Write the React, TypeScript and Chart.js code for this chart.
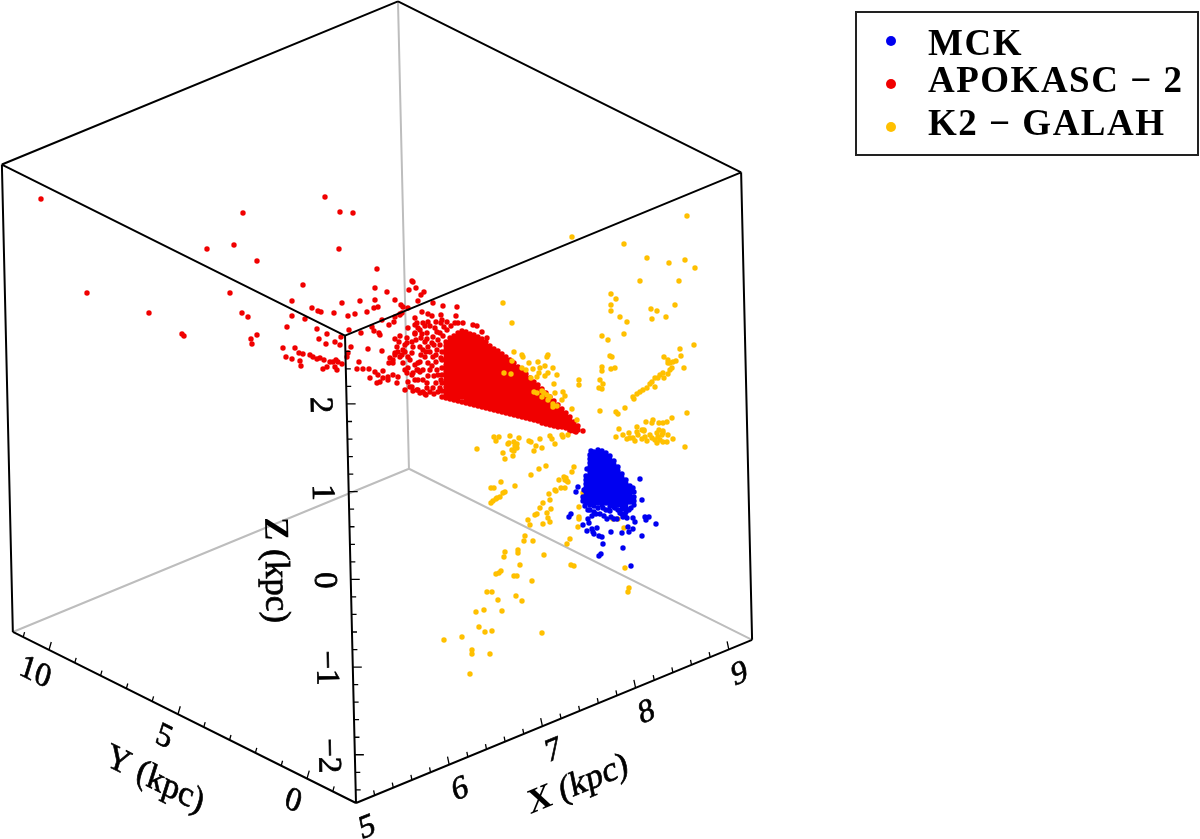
import { useEffect, useRef } from "react";
import Chart from "chart.js/auto";
import type { Chart as ChartInstance, Plugin } from "chart.js";

type Pair = [number, number];
type Column = [number, number[]];

// all stars in view-plane units (the projected 3D view)
const seriesNames = ["MCK", "APOKASC \u2212 2", "K2 \u2212 GALAH"];

const xTicks = [5.2, 5.4, 5.6, 5.8, 6, 6.2, 6.4, 6.6, 6.8, 7, 7.2, 7.4, 7.6, 7.8, 8, 8.2, 8.4, 8.6, 8.8, 9];
const yTicks = [-1, 0, 1, 2, 3, 4, 5, 6, 7, 8, 9, 10, 11];
const zTicks = [-2.4, -2.2, -2, -1.8, -1.6, -1.4, -1.2, -1, -0.8, -0.6, -0.4, -0.2, 0, 0.2, 0.4, 0.6, 0.8, 1, 1.2, 1.4, 1.6, 1.8, 2, 2.2, 2.4, 2.6];
const xLabels = [5, 6, 7, 8, 9];
const yLabels = [0, 5, 10];
const zLabels = [-2, -1, 0, 1, 2];
const xRange = [5, 9.25];
const yRange = [-1.9, 11.4];
const zRange = [-2.55, 2.78];

const redSparse: Pair[] = [
  [41,199],[87,293],[149,313],[182,334],[184,336],[243,213],[207,249],[234,245],[257,261],[325,197],[340,212],[353,213],
  [339,249],[377,269],[303,285],[230,293],[242,313],[248,317],[257,335],[251,339],[252,344],[292,301],[292,316],[287,327],
  [312,308],[318,311],[321,312],[305,319],[334,313],[342,303],[348,316],[355,314],[360,301],[367,312],[374,308],[378,307],
  [375,300],[375,288],[387,292],[395,300],[401,305],[403,307],[412,281],[413,282],[409,290],[416,288],[418,301],[400,314],
  [395,317],[394,322],[382,320],[389,325],[372,327],[374,331],[379,333],[380,335],[361,333],[349,330],[317,329],[327,334],
  [319,339],[335,342],[340,345],[341,337],[326,344],[351,347],[283,348],[295,348],[286,357],[292,359],[300,361],[301,366],
  [299,353],[303,354],[310,355],[313,357],[317,359],[320,358],[324,360],[330,362],[333,362],[336,360],[338,362],[342,364],
  [335,367],[337,370],[323,369],[327,367],[347,357],[348,353],[357,369],[359,362],[363,369],[369,369],[368,349],[382,351],
  [370,378],[375,372],[378,375],[383,371],[377,383],[380,382],[383,378],[388,377],[388,380],[393,375],[398,377],[397,383],
  [389,363],[393,360],[395,355],[398,352],[400,357],[405,352],[407,343],[403,363],[408,357],[395,339],[407,338],[413,347],
  [415,333],[417,323],[408,328],[405,370],[413,373],[418,370],[405,390],[412,387],[417,390],[418,380],[424,292],[421,295],
  [433,303],[443,306],[457,307],[408,308],[402,313],[400,315],[422,312],[415,318],[428,314],[432,316],[441,315],[456,316],
  [442,320],[444,327],[415,325],[418,328],[423,323],[428,322],[435,328],[437,332],[422,334],[415,334],[427,333],[433,337],
  [440,333],[400,336],[399,342],[397,347],[420,347],[423,350],[428,347],[432,343],[390,358],[395,353],[403,350],[412,353],
  [410,360],[418,363],[417,370],[393,363],[425,357],[428,363],[433,357],[437,350],[423,370],[430,370],[437,370],[407,373],
  [412,375],[420,372],[410,387],[418,390],[423,392],[430,392],[433,388],[415,380],[408,382],[427,383],[455,323],[458,323],
  [463,323],[473,325],[477,326],[482,332],[487,338],[583,431],[576,432],[570,431],
  [420,330],[425,326],[430,326],[436,322],[441,323],[447,322],[451,326],[447,330],[443,336],[438,340],[434,345],[430,352],
  [426,352],[421,355],[436,355],[440,345],[441,358],[436,362],[432,366],[438,375],[434,376],[428,376],[423,380],[427,388],
  [436,383],[441,380],[438,392],[434,394],[440,388],[426,395],[413,391],[420,393],[425,394],[416,340],[421,338],[412,342],
  [425,342],[427,339],[405,345],[402,355],[415,365],[420,362],[408,368],
];

// saturated part of the red wedge, by column: [x, y values]
const redCore: Column[] = [
  [442,[352,360,368,375,383,391,397]],
  [446,[342,346,350,354,358,361,365,369,372,376,380,383,387,391,394,398]],
  [450,[338,342,345,349,352,356,360,363,367,371,374,378,382,385,389,392,396,399]],
  [454,[336,340,344,347,351,354,358,362,365,369,373,376,380,384,387,391,394,398,400]],
  [458,[333,337,341,344,348,352,355,359,363,366,370,374,377,381,385,388,392,395,399,401]],
  [462,[331,335,339,342,346,350,353,357,361,364,368,372,375,379,383,386,390,393,397,402]],
  [466,[332,336,340,344,348,351,355,359,362,366,370,373,377,381,384,388,392,395,399,403]],
  [470,[334,338,342,346,349,353,357,360,364,368,371,375,379,382,386,390,393,397,400,404]],
  [474,[335,339,343,347,351,354,358,362,365,369,373,376,380,384,387,391,395,398,402,405]],
  [478,[337,341,345,348,352,356,359,363,367,370,374,378,381,385,389,392,396,399,403,406]],
  [482,[339,343,347,350,354,358,361,365,369,372,376,380,383,387,391,394,398,401,405,407]],
  [486,[342,346,349,353,357,360,364,368,371,375,379,382,386,390,393,397,400,404,408]],
  [490,[346,350,353,357,360,364,368,371,375,379,382,386,390,393,397,400,404,407,409]],
  [494,[349,352,356,359,363,367,370,374,378,381,385,389,392,396,399,403,406,410]],
  [498,[351,355,358,362,366,369,373,377,380,384,388,391,395,398,402,405,409,411]],
  [502,[354,358,361,365,369,372,376,380,383,387,391,394,398,401,405,408,412]],
  [506,[357,361,364,368,372,375,379,383,386,390,394,397,401,404,408,411,413]],
  [510,[360,364,367,371,375,378,382,386,389,393,397,400,404,407,411,414]],
  [514,[363,367,370,374,378,381,385,389,392,396,400,403,407,410,413,415]],
  [518,[367,371,374,378,382,385,389,393,396,400,403,407,410,414,416]],
  [522,[371,375,378,382,385,389,393,396,400,404,407,411,414,417]],
  [526,[374,378,382,385,389,392,396,400,403,407,411,414,418]],
  [530,[378,382,385,389,393,396,400,403,407,410,414,417,419]],
  [534,[382,385,389,393,396,400,404,407,411,414,418,420]],
  [538,[385,389,393,396,400,403,407,411,414,418,421]],
  [542,[389,393,396,400,404,407,411,414,418,421,423]],
  [546,[393,397,400,404,407,411,415,418,421,424]],
  [550,[397,401,404,408,411,415,418,422,425]],
  [554,[401,405,408,412,415,419,422,426]],
  [558,[405,409,412,416,419,423,427]],
  [562,[409,413,416,420,423,427]],
  [566,[413,417,420,424,428]],
  [570,[417,421,424,428,430]],
  [574,[422,425,429,431]],
  [578,[426,430]],
];

const yellowStars: Pair[] = [
  [687,216],[572,237],[624,244],[647,258],[669,263],[685,260],[695,268],[640,281],[679,281],[611,294],[616,299],[611,305],
  [611,311],[675,305],[651,309],[657,311],[652,319],[666,317],[620,317],[627,322],[624,334],[602,336],[608,340],[503,303],
  [512,323],[694,345],[680,349],[681,356],[664,357],[668,360],[670,363],[668,363],[673,362],[676,361],[684,368],[672,368],
  [668,374],[670,370],[663,373],[660,375],[658,378],[655,378],[652,382],[650,384],[655,387],[647,388],[643,390],[640,392],
  [637,394],[633,397],[634,399],[664,378],[610,356],[612,357],[602,367],[602,371],[611,369],[615,368],[579,380],[579,385],
  [600,380],[603,384],[599,388],[602,389],[600,411],[625,408],[616,412],[618,414],[687,413],[672,418],[659,423],[663,423],
  [667,422],[646,422],[653,420],[652,423],[637,427],[619,429],[616,437],[642,430],[644,430],[659,430],[663,431],[668,435],
  [673,439],[685,447],[623,435],[627,439],[630,438],[633,438],[629,433],[637,432],[638,435],[644,431],[635,441],[642,439],
  [645,437],[647,441],[652,438],[650,435],[657,433],[658,437],[655,440],[660,440],[663,442],[657,443],[662,435],[667,442],
  [663,433],[514,352],[522,355],[523,357],[512,361],[529,363],[538,362],[548,355],[547,357],[545,366],[553,368],[533,369],
  [540,368],[522,368],[526,370],[504,373],[511,374],[539,373],[537,377],[548,373],[531,378],[545,376],[557,375],[554,384],
  [534,392],[537,393],[542,391],[544,393],[542,397],[547,395],[550,397],[548,400],[555,393],[563,392],[565,396],[562,400],
  [553,404],[557,406],[553,407],[572,409],[577,420],[494,437],[499,437],[496,441],[510,436],[519,438],[509,443],[508,444],
  [514,442],[517,444],[515,446],[517,448],[529,441],[531,442],[540,439],[536,446],[542,448],[534,451],[550,436],[552,439],
  [555,444],[562,435],[563,437],[568,435],[477,449],[512,450],[514,451],[503,453],[513,456],[505,459],[546,466],[539,469],
  [531,475],[574,467],[572,472],[559,480],[564,477],[566,478],[567,481],[568,482],[565,480],[501,482],[515,486],[491,488],
  [494,488],[561,488],[565,488],[555,490],[556,491],[549,494],[550,500],[543,503],[540,508],[505,492],[503,493],[500,497],
  [497,498],[496,499],[493,501],[491,503],[583,493],[579,507],[551,509],[547,513],[548,518],[535,515],[537,514],[579,517],
  [579,519],[528,520],[550,522],[543,524],[530,525],[578,527],[613,519],[618,519],[624,528],[525,536],[524,541],[533,541],
  [570,539],[567,544],[505,552],[504,557],[518,550],[518,553],[544,555],[520,565],[571,565],[574,566],[625,568],[501,571],
  [499,573],[496,574],[514,576],[517,576],[532,581],[629,588],[628,592],[487,592],[492,592],[516,596],[498,600],[522,601],
  [484,610],[476,612],[502,611],[479,627],[485,632],[492,631],[542,633],[444,640],[462,637],[472,650],[472,654],[490,654],
  [470,674],
];

const blueSparse: Pair[] = [
  [591,451],[640,479],[587,469],[578,487],[576,492],[642,500],[633,488],[631,508],[571,514],[569,517],[583,525],[588,519],
  [589,523],[587,531],[592,529],[593,532],[597,528],[594,534],[599,536],[602,537],[603,544],[611,532],[622,533],[628,527],
  [629,532],[633,529],[642,536],[623,548],[631,566],[601,554],[599,556],[656,524],[645,517],[649,517],[646,520],[633,518],
  [635,522],[600,514],[604,516],[607,519],[611,517],[614,519],[617,519],[623,517],[627,518],[603,508],[609,510],[615,508],
  [583,497],[583,501],[585,506],[588,510],[592,516],[596,514],[584,490],[634,505],[629,510],[625,515],[620,513],
];

const blueCore: Column[] = [
  [586,[476,480,484,488,492,496,500,503]],
  [590,[455,459,463,467,471,474,478,482,486,490,494,498,501,505,510]],
  [594,[452,456,460,464,467,471,475,479,483,486,490,494,498,502,506,512]],
  [598,[450,454,458,461,465,469,473,477,480,484,488,492,496,500,503,508]],
  [602,[451,455,459,463,467,471,475,478,482,486,490,494,498,502,505]],
  [606,[453,457,461,464,468,472,476,480,484,488,491,495,499,503,510]],
  [610,[456,460,464,468,472,476,480,483,487,491,495,499,502,506,511]],
  [614,[461,465,469,473,477,480,484,488,492,496,499,503,507]],
  [618,[467,471,475,478,482,486,490,494,497,501,505,510]],
  [622,[474,478,482,485,489,493,497,501,505,509,514]],
  [626,[480,484,488,492,496,500,504,508,512]],
  [630,[486,490,494,498,502]],
  [634,[492,497,501]],
];

const BLUE = "#0000f0";
const RED = "#f00000";
const YELLOW = "#ffc000";
const SERIF = '"Liberation Serif", serif';

// the box is an almost pure parallel projection, so this is affine
function project(x: number, y: number, z: number) {
  return {
    x: 356 + (x - xRange[0]) * 93.2 - (y - yRange[0]) * 25.8 - (z - zRange[0]) * 2.06,
    y: 803 - (x - xRange[0]) * 38.4 - (y - yRange[0]) * 12.86 - (z - zRange[0]) * 87.7,
  };
}

const GAP = { x: NaN, y: NaN };
type P = { x: number; y: number };

function segments(list: [P, P][]) {
  return list.flatMap(([a, b]) => [a, b, GAP]);
}

const [x0, x1] = xRange;
const [y0, y1] = yRange;
const [z0, z1] = zRange;

const backEdges = segments([
  [project(x0, y1, z0), project(x1, y1, z0)],
  [project(x1, y0, z0), project(x1, y1, z0)],
  [project(x1, y1, z0), project(x1, y1, z1)],
]);

const frontEdges = segments([
  [project(x0, y0, z0), project(x1, y0, z0)],
  [project(x0, y0, z0), project(x0, y1, z0)],
  [project(x0, y0, z0), project(x0, y0, z1)],
  [project(x1, y0, z0), project(x1, y0, z1)],
  [project(x0, y1, z0), project(x0, y1, z1)],
  [project(x0, y0, z1), project(x1, y0, z1)],
  [project(x0, y0, z1), project(x0, y1, z1)],
  [project(x1, y0, z1), project(x1, y1, z1)],
  [project(x0, y1, z1), project(x1, y1, z1)],
]);

function tick(p: P, dx: number, dy: number): [P, P] {
  return [p, { x: p.x + dx, y: p.y + dy }];
}

const tickLines = segments([
  ...xTicks.map((v) => (xLabels.includes(v) ? tick(project(v, y0, z0), -1.7, -8) : tick(project(v, y0, z0), -1, -5))),
  ...yTicks.map((v) => (v % 5 === 0 ? tick(project(x0, v, z0), 2.3, -8) : tick(project(x0, v, z0), 1.4, -5))),
  ...zTicks.map((v) => (zLabels.includes(v) ? tick(project(x0, y0, v), 9, 0) : tick(project(x0, y0, v), 5, 0))),
]);

const flatten = (columns: Column[]) => columns.flatMap(([x, ys]) => ys.map((y) => ({ x, y })));
const pairs = (list: Pair[]) => list.map(([x, y]) => ({ x, y }));

// text matrices: baseline direction, then "down" direction of the glyphs
const X_PLANE = [0.92, -0.38, 0.2, 0.97];
const Y_PLANE = [0.89, 0.45, -0.3, 0.95];
const Z_PLANE = [0.02, 1, -1, 0.02];

const num = (v: number) => (v < 0 ? `\u2212${-v}` : `${v}`);

const axisTexts = [
  ...xLabels.map((v) => {
    const p = project(v, y0, z0);
    return { text: num(v), bold: "", size: 33, x: p.x + 11, y: p.y + 25, m: X_PLANE };
  }),
  ...yLabels.map((v) => {
    const p = project(x0, v, z0);
    return { text: num(v), bold: "", size: 33, x: p.x - 14, y: p.y + 23, m: Y_PLANE };
  }),
  ...zLabels.map((v) => {
    const p = project(x0, y0, v);
    return { text: num(v), bold: "", size: 33, x: p.x - 27, y: p.y + 1, m: Z_PLANE };
  }),
  { text: " (kpc)", bold: "X", size: 35, x: 578, y: 785, m: X_PLANE },
  { text: "Y (kpc)", bold: "", size: 35, x: 155, y: 780, m: Y_PLANE },
  { text: " (kpc)", bold: "Z", size: 35, x: 275, y: 570, m: Z_PLANE },
];

const textPlugin: Plugin<"scatter"> = {
  id: "box-text",
  afterDatasetsDraw(chart: ChartInstance<"scatter">) {
    const { ctx } = chart;
    const sx = chart.scales.x;
    const sy = chart.scales.y;
    ctx.save();
    ctx.fillStyle = "#000";
    ctx.strokeStyle = "#000";
    ctx.lineWidth = 0.7;
    ctx.textBaseline = "middle";
    ctx.textAlign = "left";
    axisTexts.forEach((t) => {
      ctx.save();
      ctx.translate(sx.getPixelForValue(t.x), sy.getPixelForValue(t.y));
      ctx.transform(t.m[0], t.m[1], t.m[2], t.m[3], 0, 0);
      ctx.font = `bold ${t.size}px ${SERIF}`;
      const boldWidth = t.bold ? ctx.measureText(t.bold).width : 0;
      ctx.font = `${t.size}px ${SERIF}`;
      const restWidth = ctx.measureText(t.text).width;
      const left = -(boldWidth + restWidth) / 2;
      if (t.bold) {
        ctx.font = `bold ${t.size}px ${SERIF}`;
        ctx.fillText(t.bold, left, 0);
        ctx.font = `${t.size}px ${SERIF}`;
      }
      ctx.fillText(t.text, left + boldWidth, 0);
      ctx.strokeText(t.text, left + boldWidth, 0);
      ctx.restore();
    });

    // legend box, top right
    ctx.strokeStyle = "#222";
    ctx.lineWidth = 2;
    ctx.strokeRect(856, 12, 342, 143);
    ctx.font = `bold 37px ${SERIF}`;
    ctx.letterSpacing = "1.5px";
    ctx.textBaseline = "alphabetic";
    [BLUE, RED, YELLOW].forEach((color, i) => {
      ctx.fillStyle = color;
      ctx.beginPath();
      ctx.arc(891, [41, 84, 127][i], 5, 0, Math.PI * 2);
      ctx.fill();
      ctx.fillStyle = "#000";
      ctx.fillText(seriesNames[i], 928, [55, 92, 135][i]);
    });
    ctx.restore();
  },
};

export default function App() {
  const canvasRef = useRef<HTMLCanvasElement | null>(null);

  useEffect(() => {
    const canvas = canvasRef.current;
    if (!canvas) return;
    const stars = { showLine: false, pointRadius: 2.7, pointBorderWidth: 0 };
    const lines = { showLine: true, pointRadius: 0, spanGaps: false, fill: false };
    const chart = new Chart(canvas, {
      type: "scatter",
      data: {
        datasets: [
          { ...lines, label: "ticks", data: tickLines, borderColor: "#000", borderWidth: 1.3, order: 0 },
          { ...lines, label: "front", data: frontEdges, borderColor: "#000", borderWidth: 2, order: 1 },
          { ...stars, label: seriesNames[0], data: [...flatten(blueCore), ...pairs(blueSparse)], backgroundColor: BLUE, order: 2 },
          { ...stars, label: seriesNames[2], data: pairs(yellowStars), backgroundColor: YELLOW, order: 3 },
          { ...stars, label: seriesNames[1], data: [...flatten(redCore), ...pairs(redSparse)], backgroundColor: RED, order: 4 },
          { ...lines, label: "back", data: backEdges, borderColor: "#bdbdbd", borderWidth: 2, order: 5 },
        ],
      },
      plugins: [textPlugin],
      options: {
        responsive: false,
        animation: false,
        events: [],
        layout: { padding: 0, autoPadding: false },
        plugins: { legend: { display: false }, tooltip: { enabled: false } },
        scales: {
          x: { type: "linear", min: 0, max: 1200, display: false },
          y: { type: "linear", min: 0, max: 839, reverse: true, display: false },
        },
      },
    });
    return () => chart.destroy();
  }, []);

  return (
    <div style={{ position: "absolute", left: 0, top: 0, width: 1200, height: 839, background: "#fff" }}>
      <canvas ref={canvasRef} width={1200} height={839} style={{ display: "block" }} />
    </div>
  );
}
